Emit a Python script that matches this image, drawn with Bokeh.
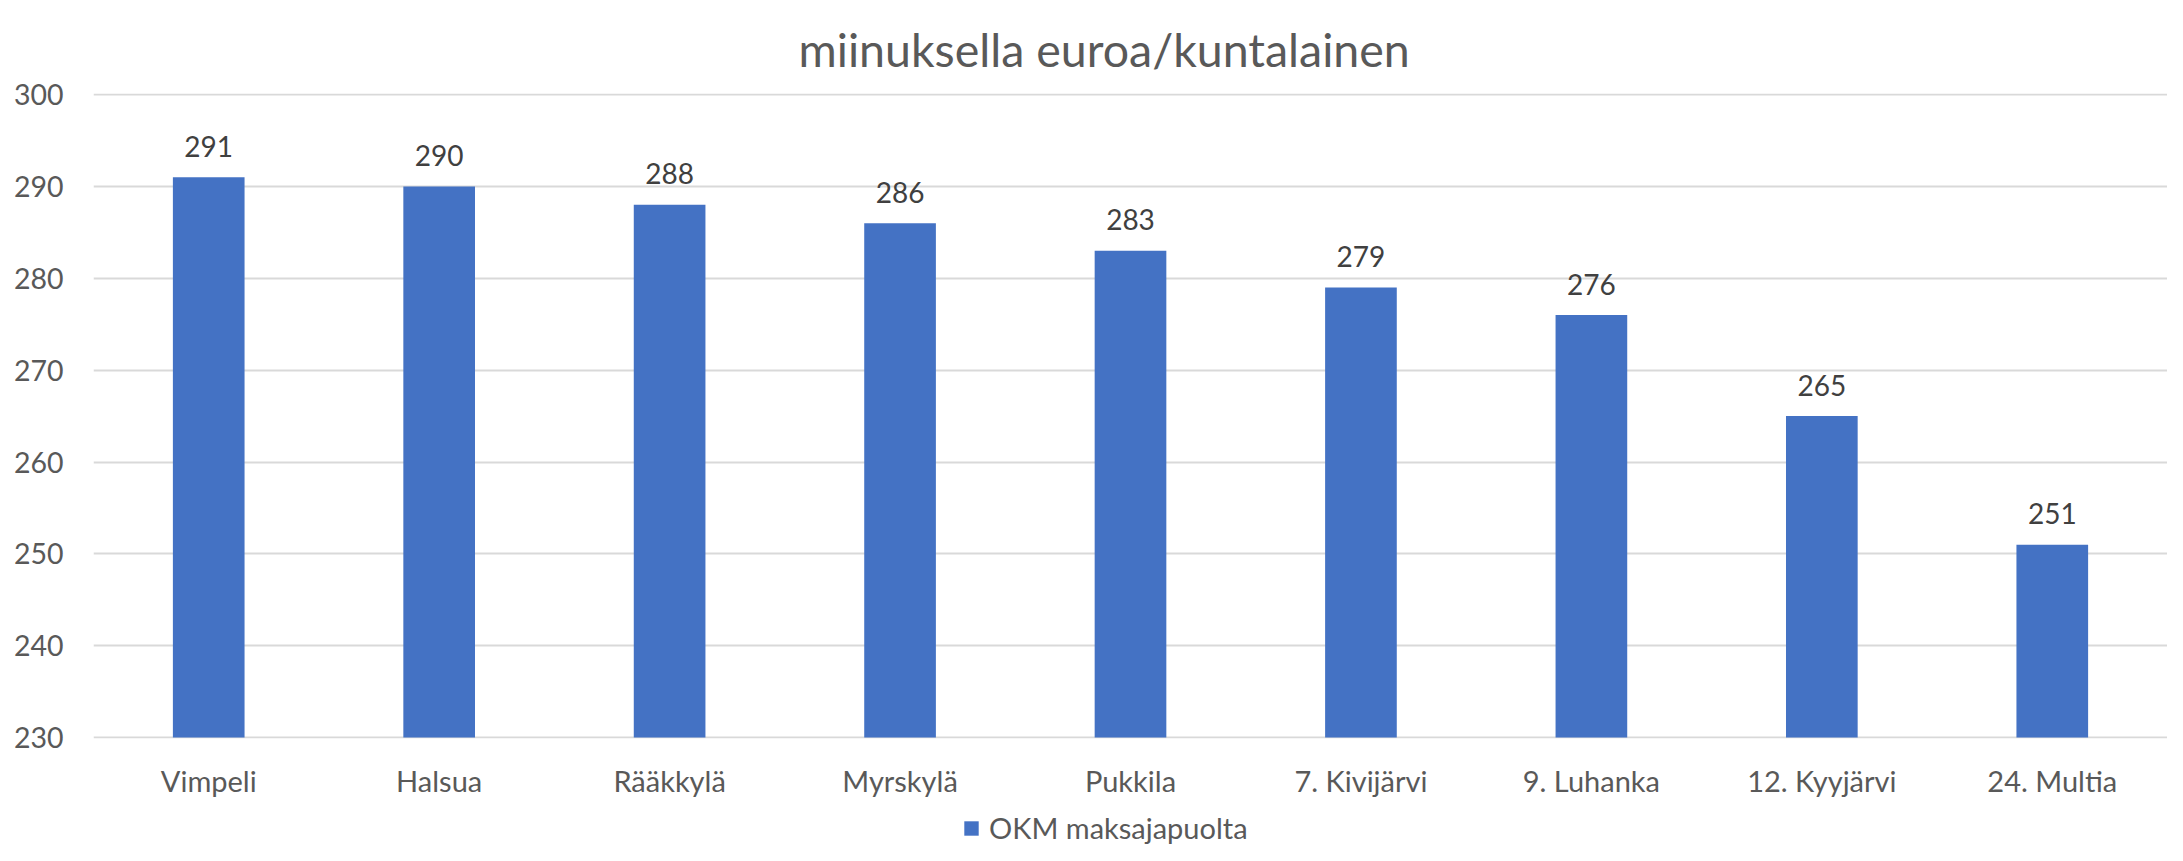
from bokeh.plotting import figure
from bokeh.layouts import column
from bokeh.models import Range1d, FixedTicker, Legend, LegendItem, ColumnDataSource
from bokeh.core.properties import value
from bokeh.embed import file_html
from bokeh.resources import INLINE

categories = ["Vimpeli", "Halsua", "Rääkkylä", "Myrskylä", "Pukkila",
              "7. Kivijärvi", "9. Luhanka", "12. Kyyjärvi", "24. Multia"]
values = [291, 290, 288, 286, 283, 279, 276, 265, 251]
y_ticks = [230, 240, 250, 260, 270, 280, 290, 300]
series_name = "OKM maksajapuolta"
title_text = "miinuksella euroa/kuntalainen"

FONT = "Lato"
GREY = "#595959"
BLUE = "#4472C4"

src = ColumnDataSource(dict(cat=categories, val=values, lab=[str(v) for v in values]))

p = figure(x_range=categories, y_range=Range1d(229.9, 300.12),
           width=2167, height=800,
           output_backend="svg", toolbar_location=None,
           min_border_left=93, min_border_right=0, min_border_top=93, min_border_bottom=59)

p.title.text = title_text
p.title.align = "left"
p.title.text_font = FONT
p.title.text_font_size = "46.5px"
p.title.text_color = GREY
p.title.text_font_style = "normal"
p.title.offset = 705
p.title.standoff = 33

bars = p.vbar(x="cat", top="val", bottom=230, width=0.311, source=src,
              fill_color=BLUE, line_color=None)

p.text(x="cat", y="val", text="lab", source=src, y_offset=-31,
       text_align="center", text_baseline="alphabetic",
       text_font=value(FONT), text_font_size="28px", text_color="#404040")

p.yaxis.ticker = FixedTicker(ticks=y_ticks)
for ax in (p.xaxis, p.yaxis):
    ax.axis_line_color = None
    ax.major_tick_line_color = None
    ax.minor_tick_line_color = None
    ax.major_tick_out = 0
    ax.major_tick_in = 0
    ax.major_label_text_font = FONT
    ax.major_label_text_color = GREY
p.yaxis.major_label_text_font_size = "28.5px"
p.xaxis.major_label_text_font_size = "29px"
p.yaxis.major_label_standoff = 30
p.xaxis.major_label_standoff = 24

p.xgrid.grid_line_color = None
p.ygrid.grid_line_color = "#D9D9D9"
p.ygrid.grid_line_width = 2
p.outline_line_color = None

# legend strip below the chart
pl = figure(width=2167, height=45, x_range=Range1d(0, 1), y_range=Range1d(0, 1),
            output_backend="svg", toolbar_location=None,
            x_axis_location=None, y_axis_location=None, min_border=0)
pl.grid.visible = False
pl.outline_line_color = None
key = pl.vbar(x=[0.5], top=[0], bottom=[0], width=0, fill_color=BLUE, line_color=None)
legend = Legend(items=[LegendItem(label=series_name, renderers=[key])],
                location=(869, 0), orientation="horizontal",
                glyph_width=18, glyph_height=18, label_standoff=9,
                label_text_font=FONT, label_text_font_size="29px",
                label_text_color=GREY, padding=0, margin=0, spacing=0,
                border_line_color=None, background_fill_alpha=0)
pl.add_layout(legend)

layout = column(p, pl, spacing=0)
open("out.html", "w").write(file_html(layout, INLINE))
